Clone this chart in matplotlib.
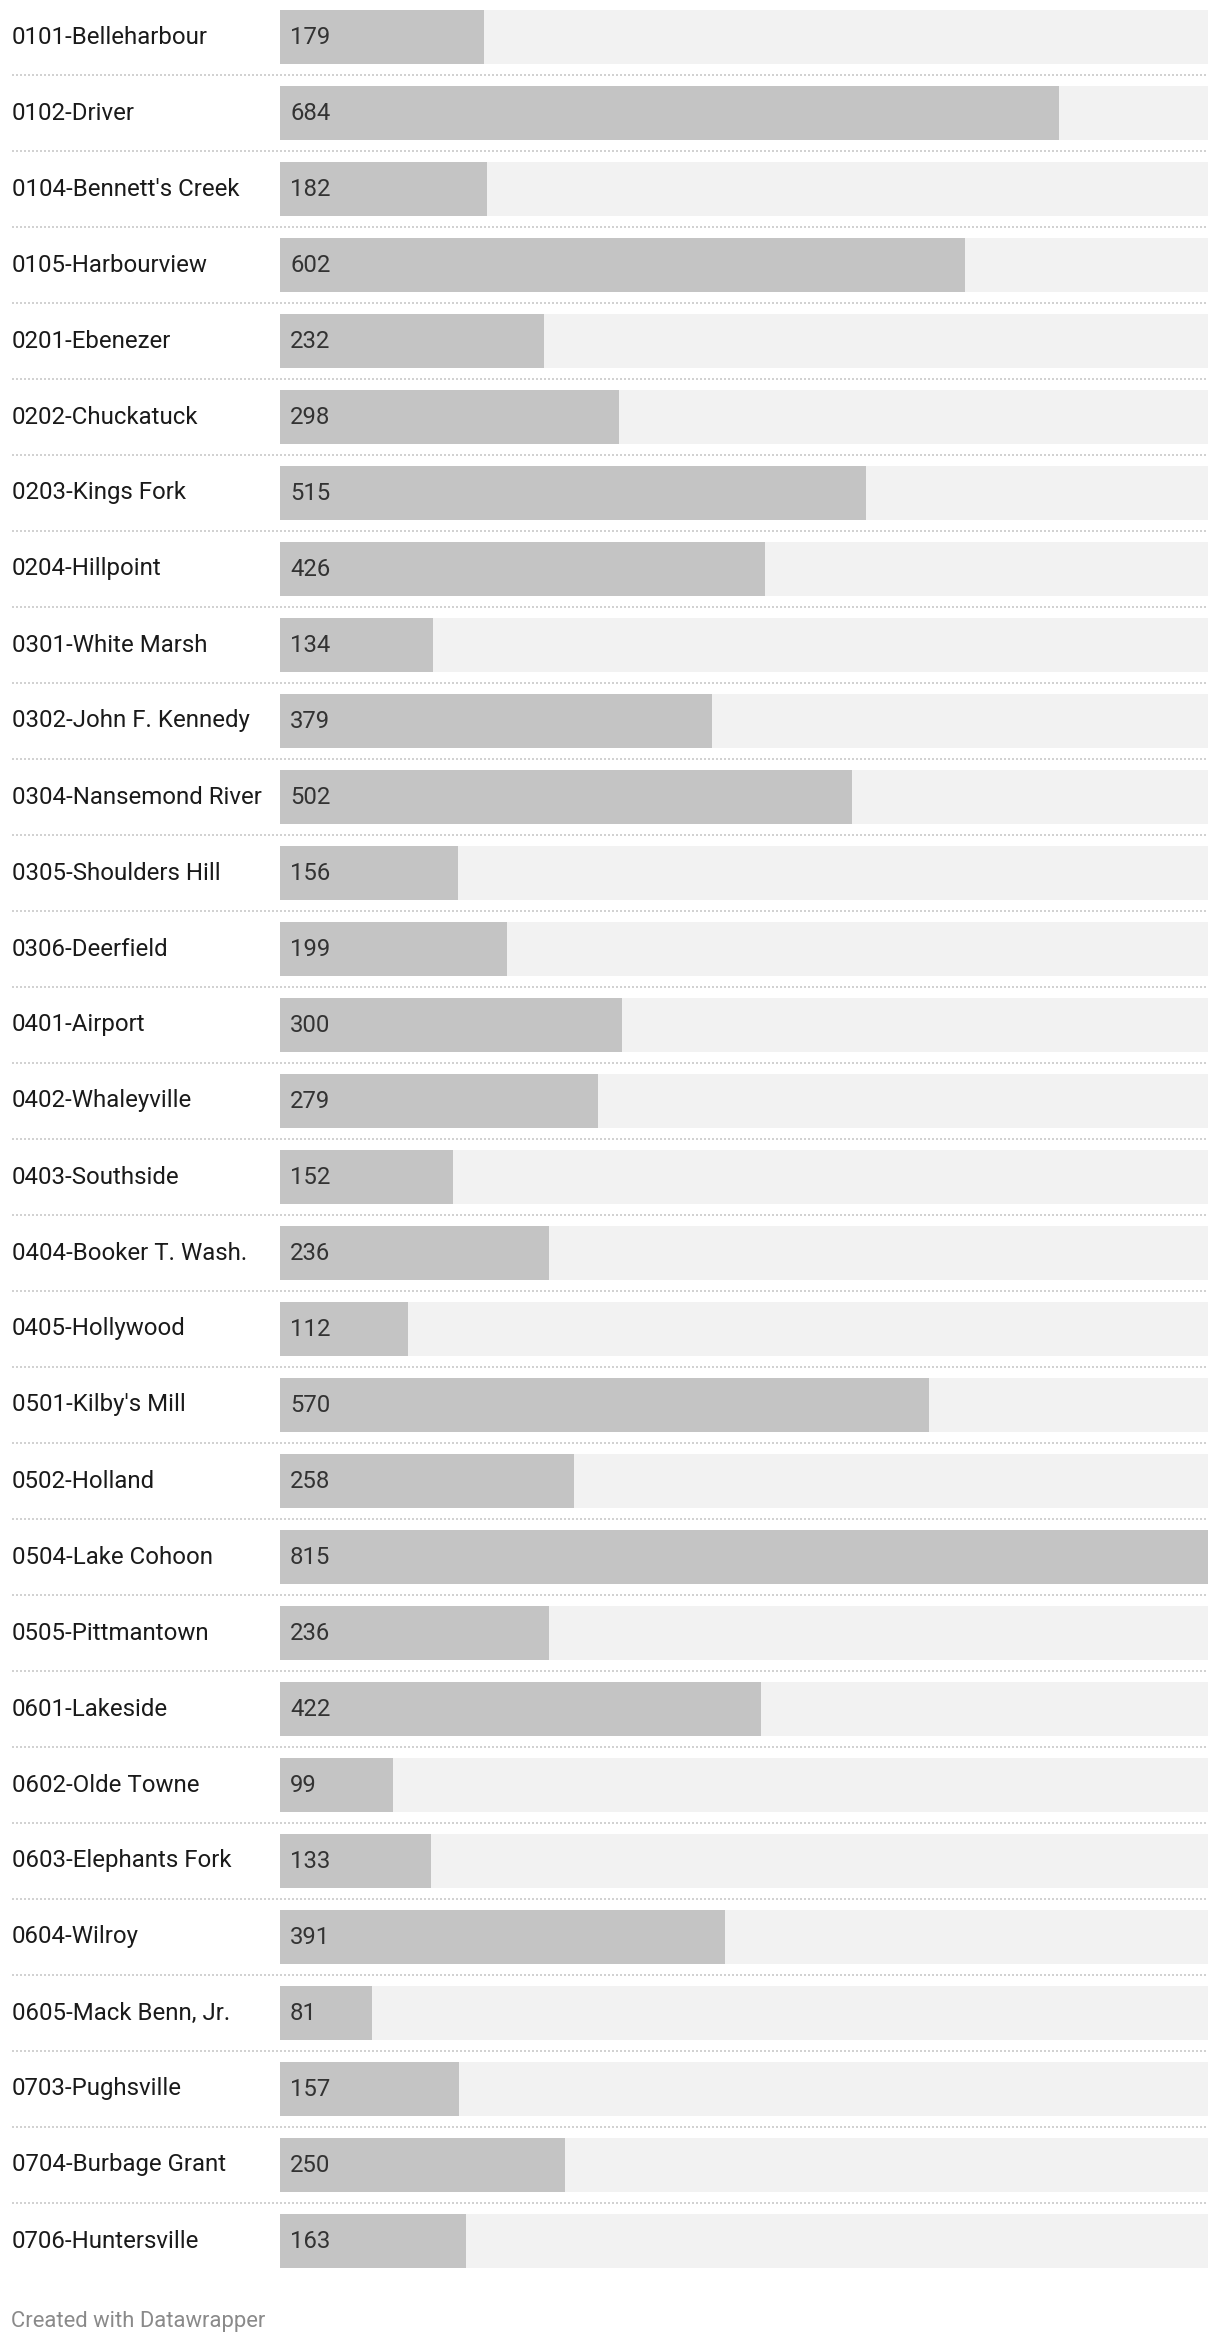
import matplotlib.pyplot as plt
from matplotlib import transforms

plt.rcParams['font.family'] = ['Roboto', 'DejaVu Sans']

# data
names = ["0101-Belleharbour", "0102-Driver", "0104-Bennett's Creek", "0105-Harbourview",
         "0201-Ebenezer", "0202-Chuckatuck", "0203-Kings Fork", "0204-Hillpoint",
         "0301-White Marsh", "0302-John F. Kennedy", "0304-Nansemond River",
         "0305-Shoulders Hill", "0306-Deerfield", "0401-Airport", "0402-Whaleyville",
         "0403-Southside", "0404-Booker T. Wash.", "0405-Hollywood", "0501-Kilby's Mill",
         "0502-Holland", "0504-Lake Cohoon", "0505-Pittmantown", "0601-Lakeside",
         "0602-Olde Towne", "0603-Elephants Fork", "0604-Wilroy", "0605-Mack Benn, Jr.",
         "0703-Pughsville", "0704-Burbage Grant", "0706-Huntersville"]
values = [179, 684, 182, 602, 232, 298, 515, 426, 134, 379, 502, 156, 199, 300, 279,
          152, 236, 112, 570, 258, 815, 236, 422, 99, 133, 391, 81, 157, 250, 163]
footer = "Created with Datawrapper"

W, H = 1220, 2344
fig = plt.figure(figsize=(W / 100, H / 100), dpi=100)

n = len(names)
pitch = 76
top = -1
ax = fig.add_axes([280 / W, 1 - (top + n * pitch) / H, 928 / W, n * pitch / H])
ax.set_xlim(0, max(values))
ax.set_ylim(n - 0.5, -0.5)
ax.axis('off')

ypos = list(range(n))
bh = 54 / pitch
# light full-width track, then the value bar on top
ax.barh(ypos, [max(values)] * n, height=bh, color='#f2f2f2', linewidth=0)
ax.barh(ypos, values, height=bh, color='#c4c4c4', linewidth=0)

lab_tr = transforms.blended_transform_factory(fig.transFigure, ax.transData)
for i, (name, v) in enumerate(zip(names, values)):
    ax.text(12 / W, i, name, transform=lab_tr, ha='left', va='center',
            fontsize=17.3, color='#1a1a1a')
    ax.text(10 / 928 * max(values), i, str(v), ha='left', va='center',
            fontsize=17.2, color='#333333')
    if i < n - 1:
        ax.plot([12 / W, 1208 / W], [i + 0.5, i + 0.5], transform=lab_tr,
                color='#d2d2d2', linewidth=1.44, linestyle=(0, (1, 1)),
                clip_on=False, solid_capstyle='butt', dash_capstyle='butt')

fig.text(11 / W, 1 - 2322 / H, footer, ha='left', va='center',
         fontsize=15.8, color='#8a8a8a')

fig.savefig('out.png', dpi=100, facecolor='white')
